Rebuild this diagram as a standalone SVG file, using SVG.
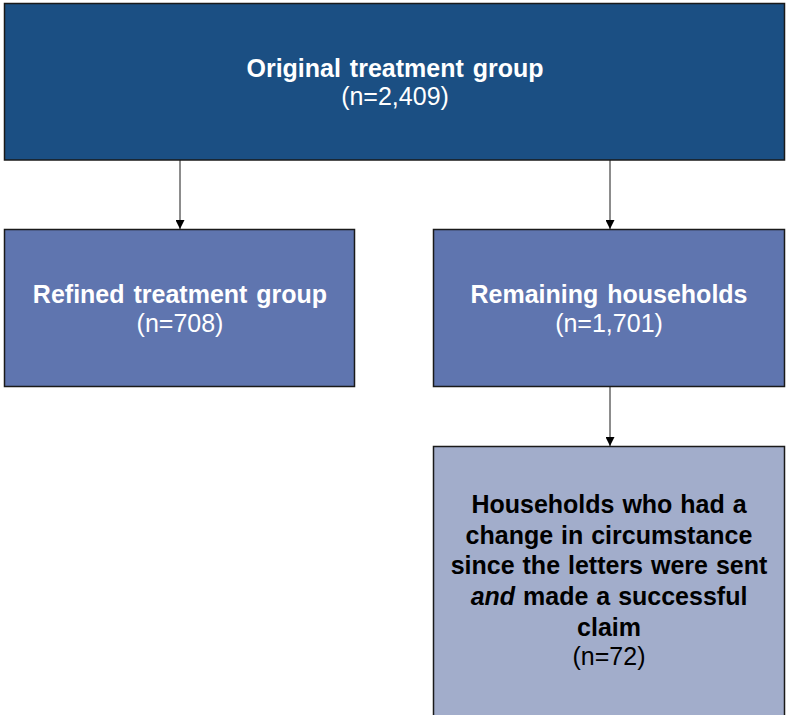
<svg xmlns="http://www.w3.org/2000/svg" width="786" height="715" viewBox="0 0 786 715">
<defs>
<style>
.box{stroke:#1a1a1a;stroke-width:1.5}
.top{fill:#1B4F83}
.mid{fill:#5F75AF}
.low{fill:#A2ADCB}
.t{font-family:"Liberation Sans",Arial,sans-serif;font-size:25px;text-anchor:middle;word-spacing:2px}
.b{font-weight:bold}
.w{fill:#ffffff}
.k{fill:#000000}
.conn{stroke:#1a1a1a;stroke-width:1;fill:none}
</style>
<marker id="ah" viewBox="0 0 10 10" refX="10" refY="5" markerWidth="9" markerHeight="9" markerUnits="userSpaceOnUse" orient="auto">
<path d="M0,0 L10,5 L0,10 Z" fill="#000"/>
</marker>
</defs>
<rect width="786" height="715" fill="#ffffff"/>
<g id="connectors">
<line class="conn" x1="180" y1="160" x2="180" y2="229" marker-end="url(#ah)"/>
<line class="conn" x1="610" y1="160" x2="610" y2="229" marker-end="url(#ah)"/>
<line class="conn" x1="610" y1="387" x2="610" y2="446" marker-end="url(#ah)"/>
</g>
<g id="original">
<rect class="box top" x="4.5" y="3.5" width="780" height="156.5"/>
<text class="t b w" x="395" y="77">Original treatment group</text>
<text class="t w" x="395" y="105">(n=2,409)</text>
</g>
<g id="refined">
<rect class="box mid" x="4.5" y="229.5" width="350" height="157"/>
<text class="t b w" x="180" y="302.5">Refined treatment group</text>
<text class="t w" x="180" y="332">(n=708)</text>
</g>
<g id="remaining">
<rect class="box mid" x="433.5" y="229.5" width="351" height="157"/>
<text class="t b w" x="609" y="302.5">Remaining households</text>
<text class="t w" x="609" y="332">(n=1,701)</text>
</g>
<g id="changed">
<rect class="box low" x="433.5" y="446.5" width="351" height="280"/>
<text class="t b k" x="609" y="513" style="word-spacing:1px">Households who had a</text>
<text class="t b k" x="609" y="543.5" style="word-spacing:1px">change in circumstance</text>
<text class="t b k" x="609" y="574" style="word-spacing:1px">since the letters were sent</text>
<text class="t b k" x="609" y="605" style="word-spacing:1px"><tspan font-style="italic">and</tspan> made a successful</text>
<text class="t b k" x="609" y="636">claim</text>
<text class="t k" x="609" y="665">(n=72)</text>
</g>
</svg>
